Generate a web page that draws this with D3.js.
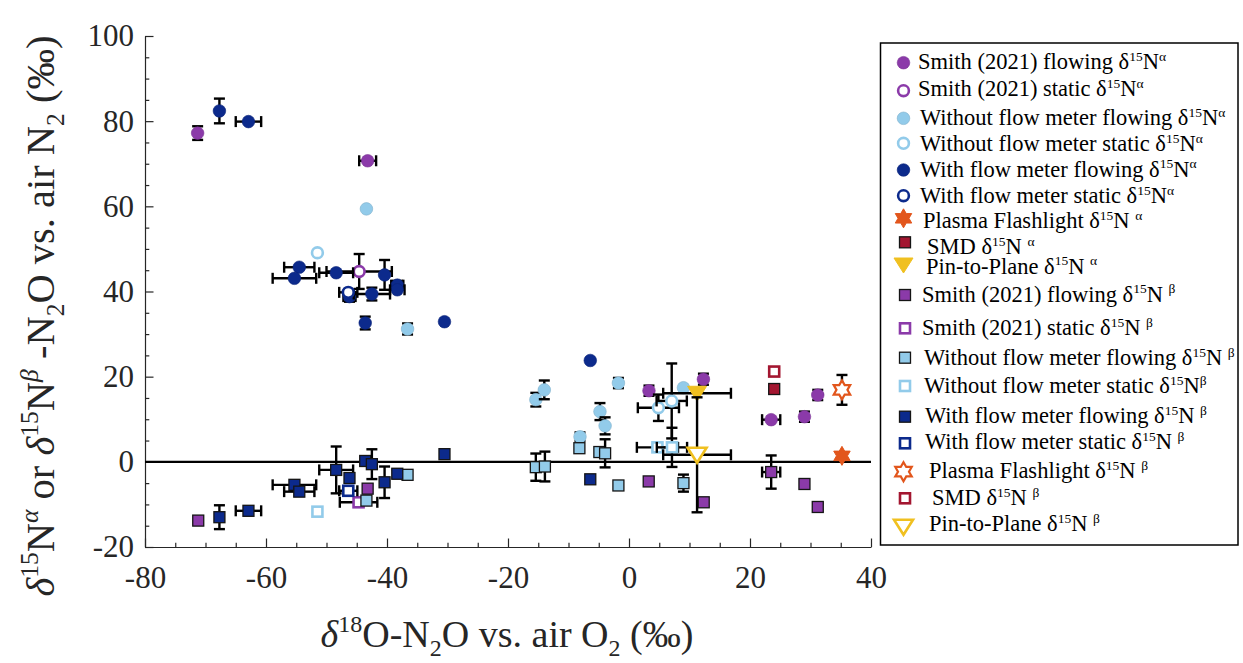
<!DOCTYPE html>
<html><head><meta charset="utf-8">
<script src="https://cdn.jsdelivr.net/npm/d3@7"></script>
<style>body{margin:0;background:#fff}svg{display:block}</style>
</head><body>
<div id="chart"></div>
<script>
// ---------- DATA (x = δ18O, y = δ15N, ex, ey) ----------
const xTicks = [-80, -60, -40, -20, 0, 20, 40];
const yTicks = [-20, 0, 20, 40, 60, 80, 100];

const smithFlowA = [[-71.3,77.2,0,1.6],[-43.2,70.7,1.4,0],[3.3,16.7,0,1.2],[12.3,19.4,0,1.3],[23.5,9.9,1.5,0],[29.0,10.6,0,1.2],[31.2,15.7,0,1.2]];
const smithStatA = [[-44.6,44.7,5.4,4.1]];
const woFlowA = [[-43.4,59.4,0,0],[-36.6,31.2,0,1.3],[-15.4,14.6,0,1.6],[-14.0,16.9,0,2.2],[-1.75,18.5,0,1.2],[-4.8,11.8,0,2.0],[-3.95,8.45,0,2.0],[-8.1,5.9,0,1.0],[9.0,17.4,0,0]];
const woStatA = [[-51.5,49.1,0,0],[4.86,12.7,3.4,3.1],[7.06,14.3,2.5,8.8]];
const wFlowA = [[-67.7,82.4,0,2.9],[-62.9,79.9,2.1,0],[-54.5,45.7,2.5,0],[-55.3,43.1,3.6,0],[-48.4,44.4,2.8,0],[-40.4,43.9,0,3.5],[-38.3,41.5,1.0,1.0],[-38.3,40.4,1.2,0],[-46.2,38.8,1.0,1.2],[-42.5,39.4,3.0,1.5],[-43.6,32.6,0,1.5],[-30.5,32.9,0,0],[-6.4,23.8,0,0]];
const wStatA = [[-46.4,39.8,1.5,0]];
const plasmaA = [[35.2,1.4,0,0]];
const smdA = [[24.0,17.1,0,0]];
const pinA = [[11.25,16.1,5.6,0]];

const smithFlowB = [[-71.2,-13.8,0,0],[-43.2,-6.3,0,0],[3.26,-4.6,0,0],[12.35,-9.5,0,0],[23.5,-2.4,1.5,3.9],[29.0,-5.2,0,0],[31.2,-10.6,0,0.8]];
const smithStatB = [[-44.7,-9.5,3.1,0.8]];
const woFlowB = [[-43.4,-9.1,0,1.0],[-36.6,-3.05,0,0],[-15.4,-1.25,0,3.2],[-13.9,-1.1,0,3.5],[-8.2,3.2,0,0],[-4.9,2.3,0,0],[-3.95,2.0,0,3.3],[-1.75,-5.55,0,0],[9.0,-5.0,0,2.0]];
const woStatB = [[-51.5,-11.7,0,0],[4.7,3.4,3.4,0.8],[7.1,3.4,2.5,4.6]];
const wFlowB = [[-67.7,-13.0,0,2.8],[-62.9,-11.5,2.1,0],[-55.3,-5.4,3.6,0],[-54.5,-7.0,2.5,0],[-48.4,-1.9,2.8,5.5],[-46.2,-3.8,0,0],[-43.6,0.2,0,0],[-42.5,-0.55,0,3.5],[-40.4,-4.8,0,3.7],[-38.3,-2.8,0,1.0],[-30.5,1.8,0,0],[-6.4,-4.1,0,0]];
const wStatB = [[-46.4,-6.8,1.5,0.8]];
const plasmaB = [[35.2,16.9,0,3.5]];
const smdB = [[24.0,21.2,0,0]];
const pinB = [[11.25,1.65,5.6,13.5]];

const legendLabels = [
  "Smith (2021) flowing δ^15^N^α^",
  "Smith (2021) static δ^15^N^α^",
  "Without flow meter flowing δ^15^N^α^",
  "Without flow meter static δ^15^N^α^",
  "With flow meter flowing δ^15^N^α^",
  "With flow meter static δ^15^N^α^",
  "Plasma Flashlight δ^15^N ^α^",
  "SMD δ^15^N ^α^",
  "Pin-to-Plane δ^15^N ^α^",
  "Smith (2021) flowing δ^15^N ^β^",
  "Smith (2021) static δ^15^N ^β^",
  "Without flow meter flowing δ^15^N ^β^",
  "Without flow meter static δ^15^N^β^",
  "With flow meter flowing δ^15^N ^β^",
  "With flow meter static δ^15^N ^β^",
  "Plasma Flashlight δ^15^N ^β^",
  "SMD δ^15^N ^β^",
  "Pin-to-Plane δ^15^N ^β^"
];

// ---------- STYLE ----------
const C = {purple:"#8b3aa9", light:"#92cbea", navy:"#0c2a8c", orange:"#e2561c", red:"#a31630", yellow:"#f0c020"};
const series = [
  {d:smithFlowA, s:"o", c:C.purple, f:true},
  {d:smithStatA, s:"o", c:C.purple, f:false},
  {d:woFlowA, s:"o", c:C.light, f:true},
  {d:woStatA, s:"o", c:C.light, f:false},
  {d:wFlowA, s:"o", c:C.navy, f:true},
  {d:wStatA, s:"o", c:C.navy, f:false},
  {d:plasmaA, s:"h", c:C.orange, f:true},
  {d:smdA, s:"s", c:C.red, f:true},
  {d:pinA, s:"v", c:C.yellow, f:true},
  {d:smithFlowB, s:"s", c:C.purple, f:true},
  {d:smithStatB, s:"s", c:C.purple, f:false},
  {d:woFlowB, s:"s", c:C.light, f:true},
  {d:woStatB, s:"s", c:C.light, f:false},
  {d:wFlowB, s:"s", c:C.navy, f:true},
  {d:wStatB, s:"s", c:C.navy, f:false},
  {d:plasmaB, s:"h", c:C.orange, f:false},
  {d:smdB, s:"s", c:C.red, f:false},
  {d:pinB, s:"v", c:C.yellow, f:false}
];
// legend layout (marker centre y, text x, text baseline offset)
const legRowY = [62.7,90.7,118.3,143.3,170,195.7,218.3,242.3,265,295,328.3,357.7,386,416.7,443.3,471.7,498.3,526.7];
const legTextX = [918,918,920,920,920,920,923,927,926,922,922,924,924,925,925,929,932,929];
const legTextDy = [6,5.5,6.5,7.5,6.5,7.5,10,12,8.5,6.5,6.5,7.3,7.3,6,6,6.6,6.7,4];

const W = 1243, H = 663;
const FONT = "Liberation Serif, Times New Roman, serif";
const svg = d3.select("#chart").append("svg").attr("width", W).attr("height", H)
  .attr("font-family", FONT);

const x = d3.scaleLinear().domain([-80, 40]).range([145, 871]);
const y = d3.scaleLinear().domain([-20, 100]).range([547, 36]);

// axes
const axCol = "#262626";
const gx = svg.append("g").attr("transform", `translate(0,${y(-20)})`)
  .call(d3.axisBottom(x).tickValues(xTicks).tickSizeInner(-8.5).tickSizeOuter(0).tickPadding(19).tickFormat(d3.format("d")));
svg.append("g").attr("transform", `translate(0,${y(-20)})`)
  .call(d3.axisBottom(x).tickValues(d3.range(-80, 41, 5).filter(v => v % 20 !== 0)).tickSizeInner(-4.3).tickSizeOuter(0).tickFormat(""))
  .call(g => g.select(".domain").remove());
const gy = svg.append("g").attr("transform", `translate(${x(-80)},0)`)
  .call(d3.axisLeft(y).tickValues(yTicks).tickSizeInner(-8.5).tickSizeOuter(0).tickPadding(11).tickFormat(d3.format("d")));
svg.append("g").attr("transform", `translate(${x(-80)},0)`)
  .call(d3.axisLeft(y).tickValues(d3.range(-20, 101, 5).filter(v => v % 20 !== 0)).tickSizeInner(-4.3).tickSizeOuter(0).tickFormat(""))
  .call(g => g.select(".domain").remove());
svg.selectAll("g").filter(function(){ return this.hasAttribute("font-family"); }).attr("font-family", FONT).attr("font-size", 31);
svg.selectAll(".domain, .tick line").attr("stroke", axCol).attr("stroke-width", 1.2);
svg.selectAll(".tick text").attr("fill", "#262626");
gx.selectAll(".tick text").text(d => d < 0 ? "-" + Math.abs(d) : d);
gy.selectAll(".tick text").text(d => d < 0 ? "-" + Math.abs(d) : d);

// zero line
svg.append("line").attr("x1", x(-80)).attr("x2", x(40)).attr("y1", y(0)).attr("y2", y(0))
  .attr("stroke", "#000").attr("stroke-width", 2.2);

// marker drawing
function hexPath(cx, cy, R) {
  const pts = [];
  for (let i = 0; i < 12; i++) {
    const r = i % 2 === 0 ? R : R * 0.577;
    const a = -Math.PI / 2 + i * Math.PI / 6;
    pts.push([cx + r * Math.cos(a), cy + r * Math.sin(a)]);
  }
  return "M" + pts.map(p => p.join(",")).join("L") + "Z";
}
function drawMarker(g, s, col, filled, cx, cy) {
  if (s === "o") {
    if (filled) g.append("circle").attr("cx", cx).attr("cy", cy).attr("r", 6.3).attr("fill", col).attr("stroke", d3.color(col).darker(0.4)).attr("stroke-width", 0.6);
    else g.append("circle").attr("cx", cx).attr("cy", cy).attr("r", 5.4).attr("fill", "#fff").attr("stroke", col).attr("stroke-width", 2.6);
  } else if (s === "s") {
    if (filled) g.append("rect").attr("x", cx - 5.5).attr("y", cy - 5.5).attr("width", 11).attr("height", 11).attr("fill", col).attr("stroke", "#151515").attr("stroke-width", 1.3);
    else g.append("rect").attr("x", cx - 5).attr("y", cy - 5).attr("width", 10).attr("height", 10).attr("fill", "#fff").attr("stroke", col).attr("stroke-width", 2.6);
  } else if (s === "h") {
    g.append("path").attr("d", hexPath(cx, cy, 9.5)).attr("fill", filled ? col : "#fff").attr("stroke", col).attr("stroke-width", filled ? 1 : 2.2);
  } else if (s === "v") {
    const p = [[cx - 9.5, cy - 7], [cx + 9.5, cy - 7], [cx, cy + 8]];
    g.append("path").attr("d", "M" + p.map(q => q.join(",")).join("L") + "Z")
      .attr("fill", filled ? col : "#fff").attr("stroke", col).attr("stroke-width", filled ? 1 : 2.6);
  }
}
const plot = svg.append("g");
series.forEach(ser => {
  const g = plot.append("g");
  ser.d.forEach(([dx, dy, ex, ey]) => {
    const cx = x(dx), cy = y(dy);
    const eb = g.append("g").attr("stroke", "#000").attr("stroke-width", 2.4);
    if (ex > 0) {
      const x0 = x(dx - ex), x1 = x(dx + ex);
      eb.append("line").attr("x1", x0).attr("x2", x1).attr("y1", cy).attr("y2", cy);
      eb.append("line").attr("x1", x0).attr("x2", x0).attr("y1", cy - 5.5).attr("y2", cy + 5.5);
      eb.append("line").attr("x1", x1).attr("x2", x1).attr("y1", cy - 5.5).attr("y2", cy + 5.5);
    }
    if (ey > 0) {
      const y0 = y(dy - ey), y1 = y(dy + ey);
      eb.append("line").attr("x1", cx).attr("x2", cx).attr("y1", y0).attr("y2", y1);
      eb.append("line").attr("x1", cx - 5.5).attr("x2", cx + 5.5).attr("y1", y0).attr("y2", y0);
      eb.append("line").attr("x1", cx - 5.5).attr("x2", cx + 5.5).attr("y1", y1).attr("y2", y1);
    }
    drawMarker(g, ser.s, ser.c, ser.f, cx, cy);
  });
});

// rich text helper: ^...^ superscript
function richText(sel, str, size) {
  const parts = str.split("^");
  parts.forEach((p, i) => {
    if (p === "") return;
    const t = sel.append("tspan").text(p);
    if (i % 2 === 1) {
      t.attr("font-size", size * 0.6).attr("dy", -size * 0.36);
    } else if (i > 0) {
      t.attr("dy", size * 0.36);
    }
  });
}

// legend
const leg = svg.append("g");
leg.append("rect").attr("x", 880.5).attr("y", 43).attr("width", 357.5).attr("height", 502)
  .attr("fill", "#fff").attr("stroke", "#000").attr("stroke-width", 1.5);
series.forEach((ser, i) => {
  const mx = ser.s === "s" ? 905 : 903.5;
  drawMarker(leg, ser.s, ser.c, ser.f, mx, legRowY[i]);
  const t = leg.append("text").attr("x", legTextX[i]).attr("y", legRowY[i] + legTextDy[i])
    .attr("font-size", 22.5).attr("fill", "#000");
  richText(t, legendLabels[i], 22.5);
});

// axis titles
const TS = 38, SS = 24;
const xt = svg.append("text").attr("x", 507).attr("y", 647).attr("text-anchor", "middle")
  .attr("font-size", TS).attr("fill", "#262626");
xt.append("tspan").attr("font-style", "italic").text("δ");
xt.append("tspan").attr("font-size", SS).attr("dy", -15).text("18");
xt.append("tspan").attr("dy", 15).text("O-N");
xt.append("tspan").attr("font-size", SS).attr("dy", 9).text("2");
xt.append("tspan").attr("dy", -9).text("O vs. air O");
xt.append("tspan").attr("font-size", SS).attr("dy", 9).text("2");
xt.append("tspan").attr("dy", -9).text(" (‰)");

const YS = 40.5, YSS = 25.5;
const yt = svg.append("text").attr("transform", "translate(54,316) rotate(-90)").attr("text-anchor", "middle")
  .attr("font-size", YS).attr("fill", "#262626");
yt.append("tspan").attr("font-style", "italic").text("δ");
yt.append("tspan").attr("font-size", YSS).attr("dy", -16).text("15");
yt.append("tspan").attr("dy", 16).text("N");
yt.append("tspan").attr("font-size", YSS).attr("font-style", "italic").attr("dy", -16).text("α");
yt.append("tspan").attr("dy", 16).text(" or ");
yt.append("tspan").attr("font-style", "italic").text("δ");
yt.append("tspan").attr("font-size", YSS).attr("dy", -16).text("15");
yt.append("tspan").attr("dy", 16).text("N");
yt.append("tspan").attr("font-size", YSS).attr("font-style", "italic").attr("dy", -16).text("β");
yt.append("tspan").attr("dy", 16).text(" -N");
yt.append("tspan").attr("font-size", YSS).attr("dy", 10).text("2");
yt.append("tspan").attr("dy", -10).text("O vs. air N");
yt.append("tspan").attr("font-size", YSS).attr("dy", 10).text("2");
yt.append("tspan").attr("dy", -10).text(" (‰)");
</script>
</body></html>
